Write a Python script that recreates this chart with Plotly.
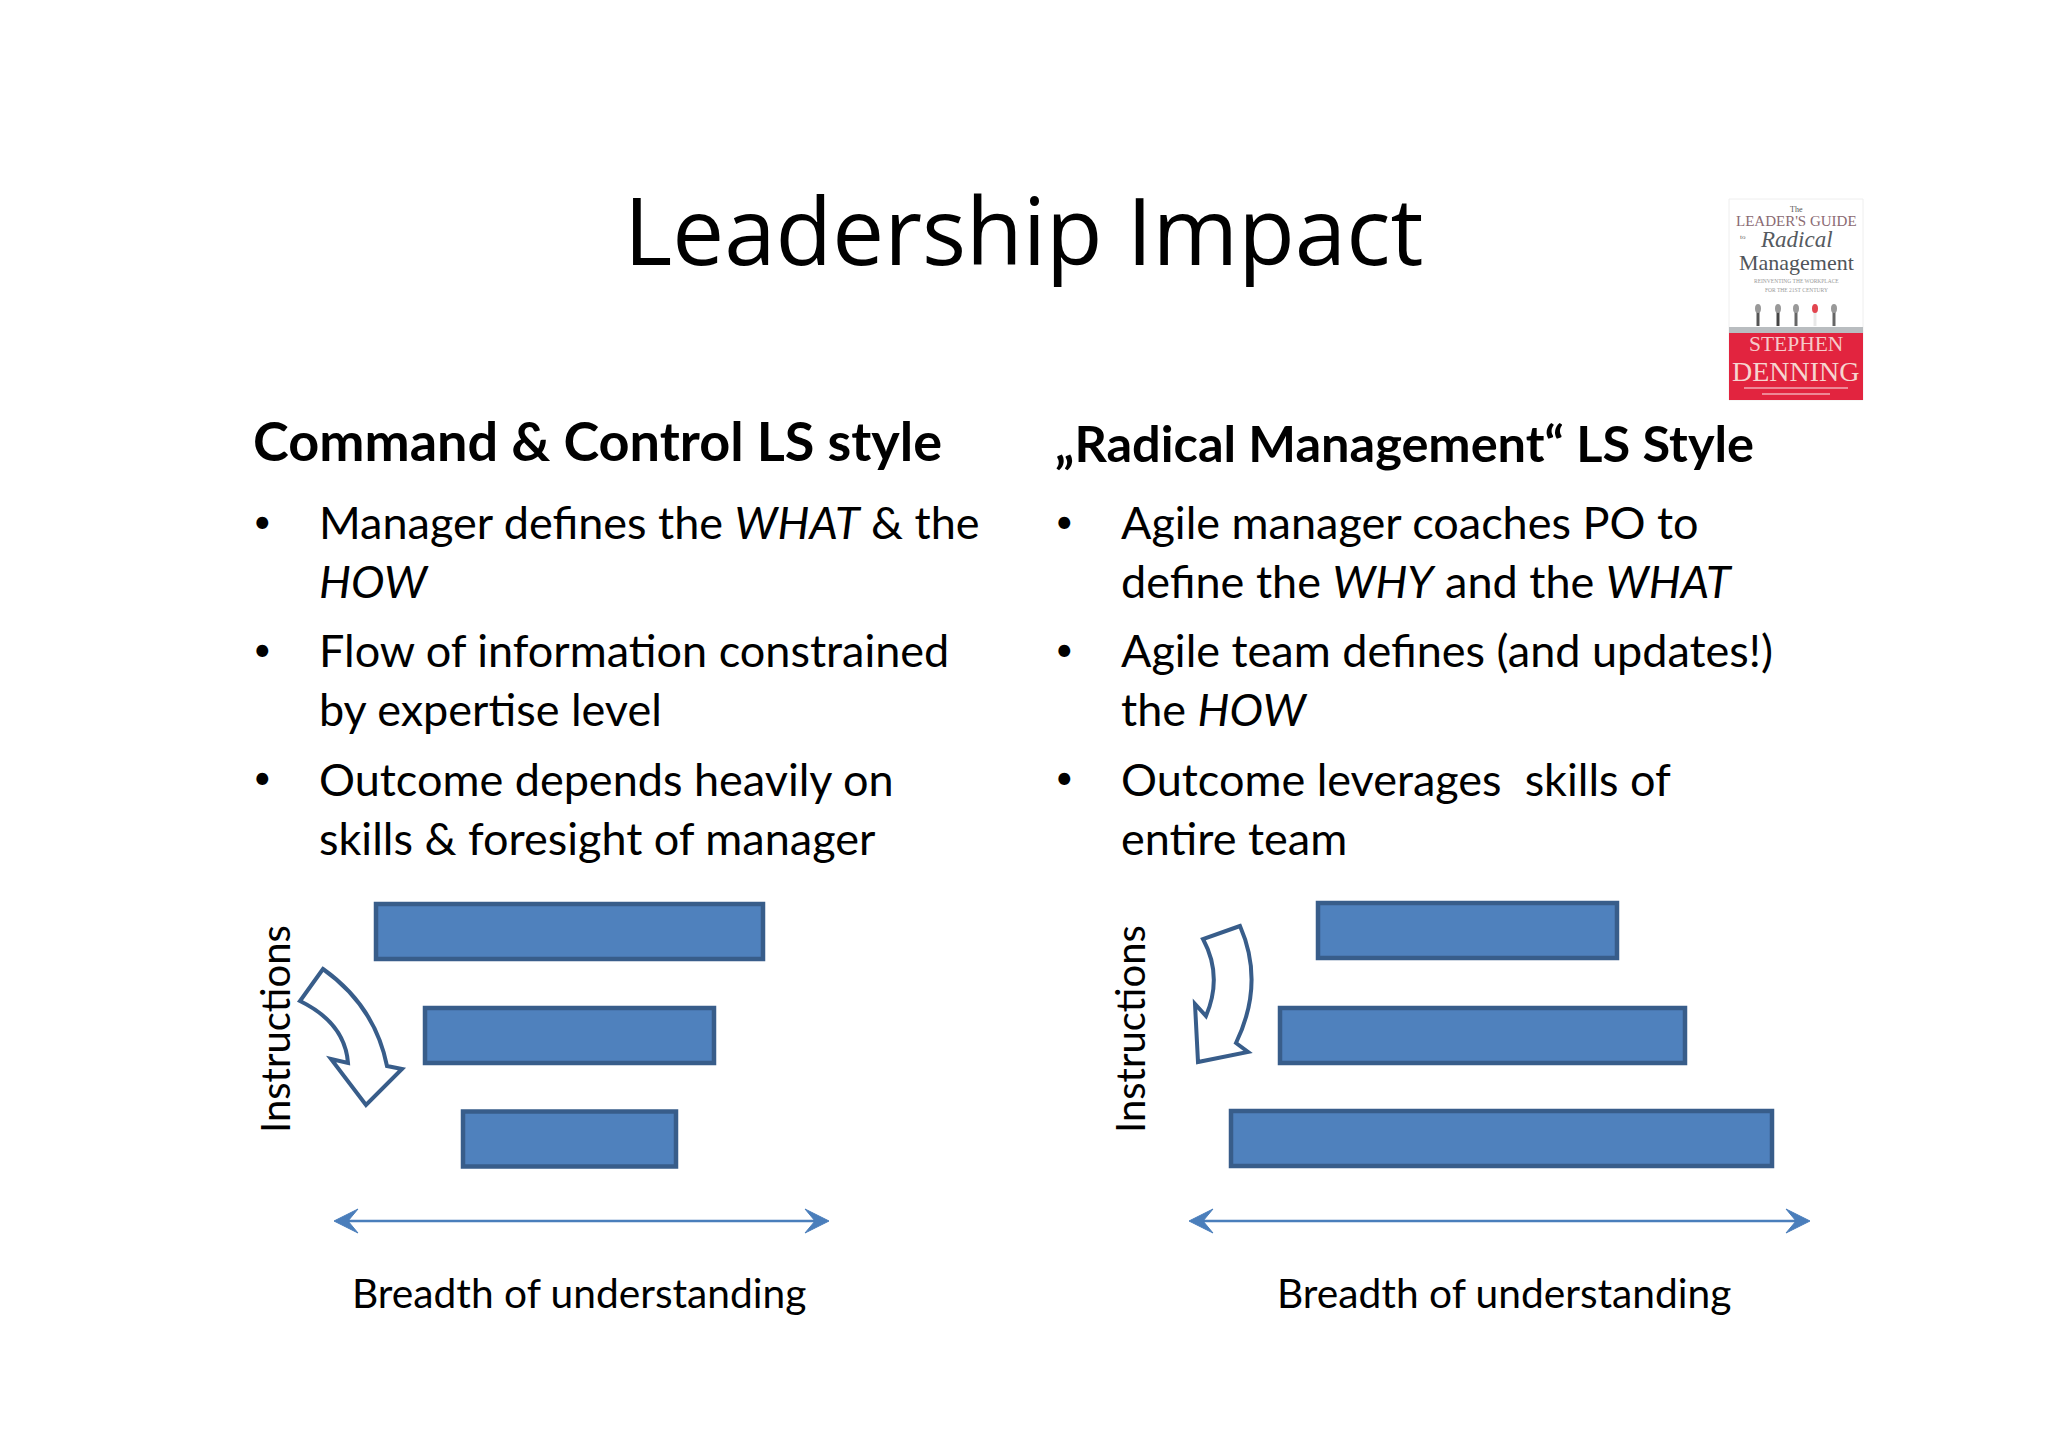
import plotly.graph_objects as go

FONT = "Lato"
BAR_FILL = "#4f81bd"
BAR_EDGE = "#385d8a"
ARROW_BLUE = "#4a7ebb"

# Text of the slide
title = "Leadership Impact"
left_heading = "Command & Control LS style"
right_heading = "„Radical Management“ LS Style"
left_lines = [
    "Manager defines the <i>WHAT</i> & the",
    "<i>HOW</i>",
    "Flow of information constrained",
    "by expertise level",
    "Outcome depends heavily on",
    "skills & foresight of manager",
]
right_lines = [
    "Agile manager coaches PO to",
    "define the <i>WHY</i> and the <i>WHAT</i>",
    "Agile team defines (and updates!)",
    "the <i>HOW</i>",
    "Outcome leverages  skills of",
    "entire team",
]
line_rows = [522, 581, 650, 709, 779, 838]
bullet_rows = [520, 648, 776]

# Bars, top to bottom
left_bar_start = [376, 425, 463]
left_bar_length = [387, 289, 213]
left_bar_row = [931.5, 1035.5, 1139]
right_bar_start = [1318, 1280, 1231]
right_bar_length = [299, 405, 541]
right_bar_row = [930.5, 1035.5, 1138.5]
bar_thickness = [55, 55, 55]

fig = go.Figure()

# Diagram bars
for start, length, row in [
    (left_bar_start, left_bar_length, left_bar_row),
    (right_bar_start, right_bar_length, right_bar_row),
]:
    fig.add_trace(go.Bar(
        orientation="h",
        base=start,
        x=length,
        y=row,
        width=bar_thickness,
        marker=dict(color=BAR_FILL, line=dict(color=BAR_EDGE, width=4.5)),
        hoverinfo="skip",
        showlegend=False,
    ))

shapes = []

# Curved arrows
curved = [
    "M 323 969 L 300 1001 Q 345 1023 348 1063 L 331 1059 L 366 1105 L 402 1069 "
    "L 387 1066 Q 375 1006 323 969 Z",
    "M 1240 926 L 1203 939 Q 1223 976 1206 1016 L 1195 1004 L 1198 1062 L 1248 1052 "
    "L 1236 1043 Q 1265 983 1240 926 Z",
]
for path in curved:
    shapes.append(dict(type="path", path=path, fillcolor="white",
                       line=dict(color=BAR_EDGE, width=4)))


# Double headed axis arrows
def axis_arrow(x0, x1, y):
    head = [
        f"M {x0} {y} L {x0 + 24} {y - 12} L {x0 + 14} {y} L {x0 + 24} {y + 12} Z",
        f"M {x1} {y} L {x1 - 24} {y - 12} L {x1 - 14} {y} L {x1 - 24} {y + 12} Z",
    ]
    shapes.append(dict(type="line", x0=x0 + 10, x1=x1 - 10, y0=y, y1=y,
                       line=dict(color=ARROW_BLUE, width=2.5)))
    for h in head:
        shapes.append(dict(type="path", path=h, fillcolor=ARROW_BLUE,
                           line=dict(color=ARROW_BLUE, width=1)))


axis_arrow(334, 829, 1221)
axis_arrow(1189, 1810, 1221)

# Book cover
shapes.append(dict(type="rect", x0=1729, x1=1863, y0=199, y1=400, fillcolor="white",
                   line=dict(color="#eeeeee", width=1)))
shapes.append(dict(type="rect", x0=1729, x1=1863, y0=327, y1=334, fillcolor="#b9bdc0", line=dict(width=0)))
shapes.append(dict(type="rect", x0=1729, x1=1863, y0=333, y1=400, fillcolor="#e2243f", line=dict(width=0)))
for mic_x, mic_color in [(1758, "#555555"), (1778, "#444444"), (1796, "#666666"), (1815, "#e8e8e8"), (1834, "#666666")]:
    shapes.append(dict(type="line", x0=mic_x, x1=mic_x, y0=312, y1=326, line=dict(color=mic_color, width=3)))
for mic_x, mic_color in [(1758, "#999999"), (1778, "#999999"), (1796, "#999999"), (1815, "#e2454f"), (1834, "#999999")]:
    shapes.append(dict(type="circle", x0=mic_x - 3, x1=mic_x + 3, y0=304, y1=313,
                       fillcolor=mic_color, line=dict(width=0)))
shapes.append(dict(type="line", x0=1744, x1=1848, y0=388, y1=388, line=dict(color="#f2a9b4", width=1.5)))
shapes.append(dict(type="line", x0=1762, x1=1830, y0=394, y1=394, line=dict(color="#f2a9b4", width=1.5)))

annotations = []


def label(x, y, text, size, anchor="left", color="black", font=FONT, angle=0):
    annotations.append(dict(
        x=x, y=y, text=text, xref="x", yref="y", showarrow=False, xanchor=anchor,
        yanchor="middle", textangle=angle, font=dict(family=font, size=size, color=color),
    ))


label(1023, 229, title, 92.5, anchor="center", font="Open Sans")
label(251, 440, f"<b>{left_heading}</b>", 54)
label(1053, 442, f"<b>{right_heading}</b>", 50.5)

for row, text in zip(line_rows, left_lines):
    label(317, row, text, 45)
for row, text in zip(line_rows, right_lines):
    label(1119, row, text, 45)
for row in bullet_rows:
    label(262, row, "•", 32, anchor="center")
    label(1064, row, "•", 32, anchor="center")

label(275, 1029, "Instructions", 40, anchor="center", angle=-90)
label(1130, 1029, "Instructions", 40, anchor="center", angle=-90)
label(579, 1292, "Breadth of understanding", 40.7, anchor="center")
label(1504, 1292, "Breadth of understanding", 40.7, anchor="center")

# Cover text
serif = "Liberation Serif"
label(1796, 209, "The", 8, anchor="center", color="#555555", font=serif)
label(1796, 221, "LEADER'S GUIDE", 15, anchor="center", color="#8a6a72", font=serif)
label(1796, 239, "<i>Radical</i>", 23, anchor="center", color="#555a60", font=serif)
label(1743, 237, "to", 7, anchor="center", color="#666666", font=serif)
label(1796, 262, "Management", 22, anchor="center", color="#50555a", font=serif)
label(1796, 281, "REINVENTING THE WORKPLACE", 5.5, anchor="center", color="#999999", font=serif)
label(1796, 290, "FOR THE 21ST CENTURY", 5.5, anchor="center", color="#999999", font=serif)
label(1796, 344, "STEPHEN", 21.5, anchor="center", color="#f6c9c9", font=serif)
label(1796, 371, "DENNING", 28, anchor="center", color="#f6d5d0", font=serif)

# The page body keeps its 8px margin, so the axes start at 8 to stay on picture pixels
fig.update_layout(
    width=2040,
    height=1439,
    margin=dict(l=0, r=0, t=0, b=0),
    paper_bgcolor="white",
    plot_bgcolor="white",
    xaxis=dict(range=[8, 2048], visible=False, fixedrange=True),
    yaxis=dict(range=[1447, 8], visible=False, fixedrange=True),
    shapes=shapes,
    annotations=annotations,
    barmode="overlay",
)

fig.write_html("out.html")
